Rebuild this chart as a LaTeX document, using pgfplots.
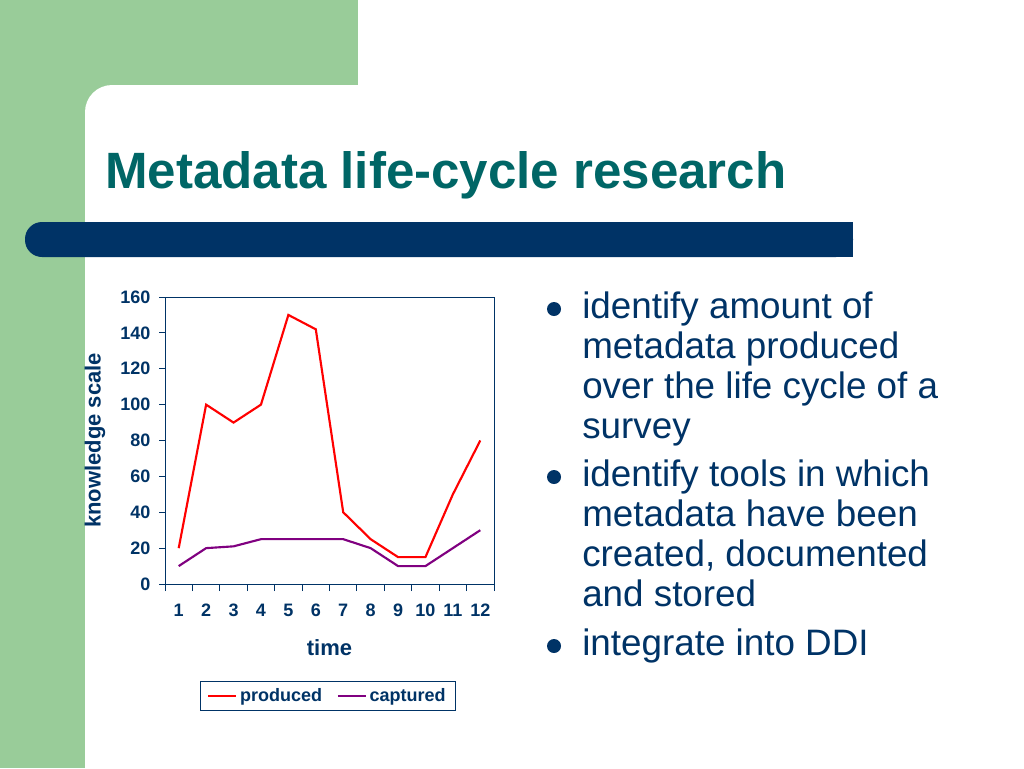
\documentclass[border=0pt]{standalone}
\usepackage{fontspec}
\setmainfont{Liberation Sans}
\usepackage{pgfplots}
\pgfplotsset{compat=1.18}
\definecolor{navy}{HTML}{003366}
\definecolor{titleteal}{HTML}{006666}
\definecolor{slidegreen}{HTML}{99CC99}
\definecolor{produced}{HTML}{FF0000}
\definecolor{captured}{HTML}{800080}
\begin{document}
\begin{tikzpicture}
% slide background, in pixels of the 1024x768 slide
\begin{scope}[x=0.75pt,y=-0.75pt]
  \useasboundingbox (0,0) rectangle (1024,768);
  \fill[white] (0,0) rectangle (1024,768);
  \fill[slidegreen] (0,0) rectangle (358,85);
  \fill[slidegreen] (0,0) rectangle (85,768);
  \fill[slidegreen] (85,85) rectangle (112,112);
  \fill[white] (112,112) circle (27);
  \fill[navy, rounded corners=12.75pt] (25,222) rectangle (853,257);
  \fill[navy] (800,222) rectangle (853,257);
  \node[anchor=base west, inner sep=0pt, text=titleteal,
        font=\bfseries\fontsize{38.3}{40}\selectfont] at (105,188) {Metadata life-cycle research};
  \begin{scope}[every node/.style={anchor=base west, inner sep=0pt, text=navy,
        font=\fontsize{27.6}{30}\selectfont}]
    \fill[navy] (554,309) circle (7);
    \node at (582,318) {identify amount of};
    \node at (582,358) {metadata produced};
    \node at (582,398) {over the life cycle of a};
    \node at (582,438) {survey};
    \fill[navy] (554,477) circle (7);
    \node at (582,486) {identify tools in which};
    \node at (582,526) {metadata have been};
    \node at (582,566) {created, documented};
    \node at (582,606) {and stored};
    \fill[navy] (554,646) circle (7);
    \node at (582,655) {integrate into DDI};
  \end{scope}
\end{scope}

\begin{axis}[
  at={(123.75pt,-438pt)}, anchor=south west,
  scale only axis, width=246.75pt, height=215.25pt,
  xmin=0.5, xmax=12.5, ymin=0, ymax=160,
  xtick={1,...,12}, minor xtick={0.5,1.5,...,12.5},
  ytick={0,20,...,160},
  xtick pos=bottom, ytick pos=left, tick align=outside,
  major tick length=4.5pt, minor tick length=5.25pt,
  axis line style={navy, line width=0.75pt},
  tick style={navy, line width=0.75pt},
  major x tick style={draw=none},
  /pgf/number format/assume math mode=true,
  ticklabel style={font=\bfseries\fontsize{13.5}{13.5}\selectfont, text=navy},
  xticklabel style={anchor=north, text height=10pt, text depth=0pt, yshift=-6pt},
  yticklabel style={xshift=-3pt},
  xlabel={time}, ylabel={knowledge scale},
  label style={font=\bfseries\fontsize{16.5}{16.5}\selectfont, text=navy},
  xlabel style={at={(axis description cs:0.5,-0.223)}, anchor=center},
  ylabel style={at={(axis description cs:-0.213,0.5)}, anchor=center},
  legend columns=2,
  legend style={at={(0.495,-0.39)}, anchor=center, draw=navy, line width=0.75pt,
    inner xsep=5.5pt, inner ysep=3.5pt,
    font=\bfseries\fontsize{13.5}{13.5}\selectfont, text=navy,
    /tikz/every even column/.append style={column sep=9pt}},
  legend image code/.code={\draw[#1] (0pt,0pt) -- (21pt,0pt);},
]
\addplot[produced, line width=1.6pt, mark=none] coordinates {
  (1,20) (2,100) (3,90) (4,100) (5,150) (6,142)
  (7,40) (8,25) (9,15) (10,15) (11,50) (12,80)
};
\addplot[captured, line width=1.6pt, mark=none] coordinates {
  (1,10) (2,20) (3,21) (4,25) (5,25) (6,25)
  (7,25) (8,20) (9,10) (10,10) (11,20) (12,30)
};
\legend{produced,captured}
\end{axis}
\end{tikzpicture}
\end{document}
